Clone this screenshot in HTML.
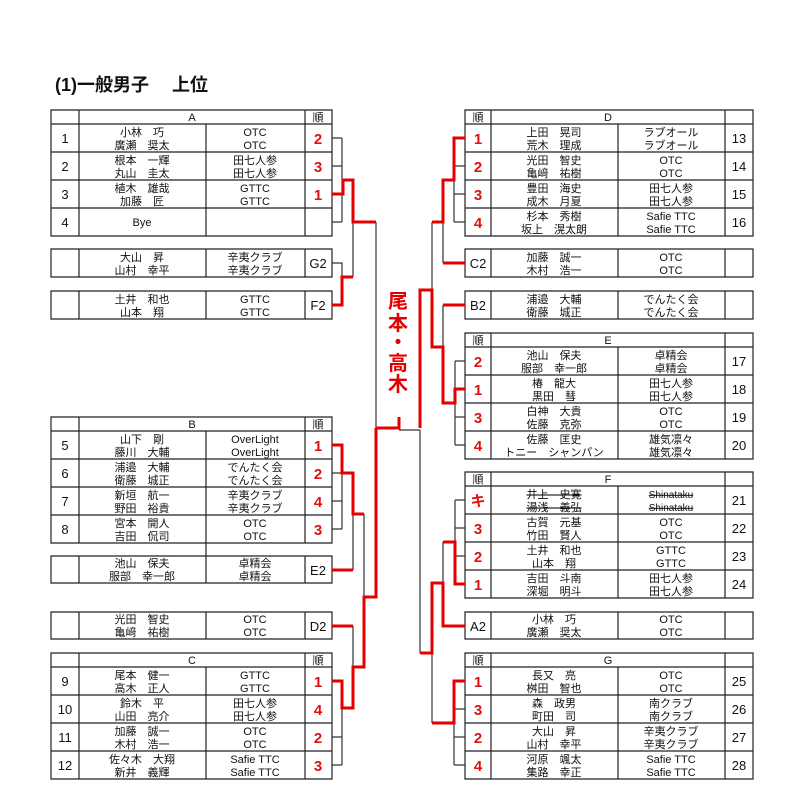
<!DOCTYPE html>
<html><head><meta charset="utf-8"><style>
body{margin:0;background:#fff;}
svg{display:block;font-family:"Liberation Sans","Noto Sans CJK JP",sans-serif;}
.n{font-size:11px;text-anchor:middle;fill:#111;}
.h{font-size:11px;text-anchor:middle;fill:#111;}
.k{font-size:13px;text-anchor:middle;fill:#111;}
.r{font-size:15px;font-weight:bold;text-anchor:middle;fill:#e01010;}
.t{stroke:#222;stroke-width:1.2;fill:none;}
.b{stroke:#333;stroke-width:1.2;fill:none;}
.rd{stroke:#e50000;stroke-width:3;fill:none;}
.s{text-decoration:line-through;}
</style></head><body>
<svg width="794" height="796" viewBox="0 0 794 796" xmlns="http://www.w3.org/2000/svg">
<text x="55" y="91" style="font-size:18px;font-weight:bold" fill="#111">(1)一般男子　 上位</text>

<path class="t" d="M51,110H332V236H51Z M79,110V236 M206,124V236 M305,110V236 M51,124H332 M51,152H332 M51,180H332 M51,208H332"/>
<text class="h" x="192" y="121">A</text><text class="h" x="318" y="121">順</text>
<text class="k" x="65" y="143">1</text><text class="n" x="142" y="136">小林　巧</text><text class="n" x="142" y="149">廣瀬　奨太</text><text class="n" x="255" y="136">OTC</text><text class="n" x="255" y="149">OTC</text><text class="r" x="318" y="144">2</text>
<text class="k" x="65" y="171">2</text><text class="n" x="142" y="164">根本　一輝</text><text class="n" x="142" y="177">丸山　圭太</text><text class="n" x="255" y="164">田七人参</text><text class="n" x="255" y="177">田七人参</text><text class="r" x="318" y="172">3</text>
<text class="k" x="65" y="199">3</text><text class="n" x="142" y="192">植木　雄哉</text><text class="n" x="142" y="205">加藤　匠</text><text class="n" x="255" y="192">GTTC</text><text class="n" x="255" y="205">GTTC</text><text class="r" x="318" y="200">1</text>
<text class="k" x="65" y="227">4</text><text class="n" x="142" y="226">Bye</text>

<path class="t" d="M51,249H332V277H51Z M79,249V277 M206,249V277 M305,249V277"/>
<text class="n" x="142" y="261">大山　昇</text><text class="n" x="142" y="274">山村　幸平</text><text class="n" x="255" y="261">辛夷クラブ</text><text class="n" x="255" y="274">辛夷クラブ</text><text class="k" x="318" y="268">G2</text>
<path class="t" d="M51,291H332V319H51Z M79,291V319 M206,291V319 M305,291V319"/>
<text class="n" x="142" y="303">土井　和也</text><text class="n" x="142" y="316">山本　翔</text><text class="n" x="255" y="303">GTTC</text><text class="n" x="255" y="316">GTTC</text><text class="k" x="318" y="310">F2</text>

<path class="t" d="M51,417H332V543H51Z M79,417V543 M206,431V543 M305,417V543 M51,431H332 M51,459H332 M51,487H332 M51,515H332 M206,543V556"/>
<text class="h" x="192" y="428">B</text><text class="h" x="318" y="428">順</text>
<text class="k" x="65" y="450">5</text><text class="n" x="142" y="443">山下　剛</text><text class="n" x="142" y="456">藤川　大輔</text><text class="n" x="255" y="443">OverLight</text><text class="n" x="255" y="456">OverLight</text><text class="r" x="318" y="451">1</text>
<text class="k" x="65" y="478">6</text><text class="n" x="142" y="471">浦邉　大輔</text><text class="n" x="142" y="484">衛藤　城正</text><text class="n" x="255" y="471">でんたく会</text><text class="n" x="255" y="484">でんたく会</text><text class="r" x="318" y="479">2</text>
<text class="k" x="65" y="506">7</text><text class="n" x="142" y="499">新垣　航一</text><text class="n" x="142" y="512">野田　裕貴</text><text class="n" x="255" y="499">辛夷クラブ</text><text class="n" x="255" y="512">辛夷クラブ</text><text class="r" x="318" y="507">4</text>
<text class="k" x="65" y="534">8</text><text class="n" x="142" y="527">宮本　開人</text><text class="n" x="142" y="540">吉田　侃司</text><text class="n" x="255" y="527">OTC</text><text class="n" x="255" y="540">OTC</text><text class="r" x="318" y="535">3</text>

<path class="t" d="M51,556H332V583H51Z M79,556V583 M206,556V583 M305,556V583"/>
<text class="n" x="142" y="567">池山　保夫</text><text class="n" x="142" y="580">服部　幸一郎</text><text class="n" x="255" y="567">卓精会</text><text class="n" x="255" y="580">卓精会</text><text class="k" x="318" y="575">E2</text>
<path class="t" d="M51,612H332V639H51Z M79,612V639 M206,612V639 M305,612V639"/>
<text class="n" x="142" y="623">光田　智史</text><text class="n" x="142" y="636">亀﨑　祐樹</text><text class="n" x="255" y="623">OTC</text><text class="n" x="255" y="636">OTC</text><text class="k" x="318" y="631">D2</text>

<path class="t" d="M51,653H332V779H51Z M79,653V779 M206,667V779 M305,653V779 M51,667H332 M51,695H332 M51,723H332 M51,751H332"/>
<text class="h" x="192" y="664">C</text><text class="h" x="318" y="664">順</text>
<text class="k" x="65" y="686">9</text><text class="n" x="142" y="679">尾本　健一</text><text class="n" x="142" y="692">高木　正人</text><text class="n" x="255" y="679">GTTC</text><text class="n" x="255" y="692">GTTC</text><text class="r" x="318" y="687">1</text>
<text class="k" x="65" y="714">10</text><text class="n" x="142" y="707">鈴木　平</text><text class="n" x="142" y="720">山田　亮介</text><text class="n" x="255" y="707">田七人参</text><text class="n" x="255" y="720">田七人参</text><text class="r" x="318" y="715">4</text>
<text class="k" x="65" y="742">11</text><text class="n" x="142" y="735">加藤　誠一</text><text class="n" x="142" y="748">木村　浩一</text><text class="n" x="255" y="735">OTC</text><text class="n" x="255" y="748">OTC</text><text class="r" x="318" y="743">2</text>
<text class="k" x="65" y="770">12</text><text class="n" x="142" y="763">佐々木　大翔</text><text class="n" x="142" y="776">新井　義輝</text><text class="n" x="255" y="763">Safie TTC</text><text class="n" x="255" y="776">Safie TTC</text><text class="r" x="318" y="771">3</text>

<path class="t" d="M465,110H753V236H465Z M491,110V236 M618,124V236 M725,110V236 M465,124H753 M465,152H753 M465,180H753 M465,208H753"/>
<text class="h" x="478" y="121">順</text><text class="h" x="608" y="121">D</text>
<text class="r" x="478" y="144">1</text><text class="n" x="554" y="136">上田　晃司</text><text class="n" x="554" y="149">荒木　理成</text><text class="n" x="671" y="136">ラブオール</text><text class="n" x="671" y="149">ラブオール</text><text class="k" x="739" y="143">13</text>
<text class="r" x="478" y="172">2</text><text class="n" x="554" y="164">光田　智史</text><text class="n" x="554" y="177">亀﨑　祐樹</text><text class="n" x="671" y="164">OTC</text><text class="n" x="671" y="177">OTC</text><text class="k" x="739" y="171">14</text>
<text class="r" x="478" y="200">3</text><text class="n" x="554" y="192">豊田　海史</text><text class="n" x="554" y="205">成木　月夏</text><text class="n" x="671" y="192">田七人参</text><text class="n" x="671" y="205">田七人参</text><text class="k" x="739" y="199">15</text>
<text class="r" x="478" y="228">4</text><text class="n" x="554" y="220">杉本　秀樹</text><text class="n" x="554" y="233">坂上　滉太朗</text><text class="n" x="671" y="220">Safie TTC</text><text class="n" x="671" y="233">Safie TTC</text><text class="k" x="739" y="227">16</text>

<path class="t" d="M465,249H753V277H465Z M491,249V277 M618,249V277 M725,249V277"/>
<text class="k" x="478" y="268">C2</text><text class="n" x="554" y="261">加藤　誠一</text><text class="n" x="554" y="274">木村　浩一</text><text class="n" x="671" y="261">OTC</text><text class="n" x="671" y="274">OTC</text>
<path class="t" d="M465,291H753V319H465Z M491,291V319 M618,291V319 M725,291V319"/>
<text class="k" x="478" y="310">B2</text><text class="n" x="554" y="303">浦邉　大輔</text><text class="n" x="554" y="316">衛藤　城正</text><text class="n" x="671" y="303">でんたく会</text><text class="n" x="671" y="316">でんたく会</text>

<path class="t" d="M465,333H753V459H465Z M491,333V459 M618,347V459 M725,333V459 M465,347H753 M465,375H753 M465,403H753 M465,431H753"/>
<text class="h" x="478" y="344">順</text><text class="h" x="608" y="344">E</text>
<text class="r" x="478" y="367">2</text><text class="n" x="554" y="359">池山　保夫</text><text class="n" x="554" y="372">服部　幸一郎</text><text class="n" x="671" y="359">卓精会</text><text class="n" x="671" y="372">卓精会</text><text class="k" x="739" y="366">17</text>
<text class="r" x="478" y="395">1</text><text class="n" x="554" y="387">椿　龍大</text><text class="n" x="554" y="400">黒田　彗</text><text class="n" x="671" y="387">田七人参</text><text class="n" x="671" y="400">田七人参</text><text class="k" x="739" y="394">18</text>
<text class="r" x="478" y="423">3</text><text class="n" x="554" y="415">白神　大貴</text><text class="n" x="554" y="428">佐藤　克弥</text><text class="n" x="671" y="415">OTC</text><text class="n" x="671" y="428">OTC</text><text class="k" x="739" y="422">19</text>
<text class="r" x="478" y="451">4</text><text class="n" x="554" y="443">佐藤　匡史</text><text class="n" x="554" y="456">トニー　シャンパン</text><text class="n" x="671" y="443">雄気凛々</text><text class="n" x="671" y="456">雄気凛々</text><text class="k" x="739" y="450">20</text>

<path class="t" d="M465,472H753V598H465Z M491,472V598 M618,486V598 M725,472V598 M465,486H753 M465,514H753 M465,542H753 M465,570H753"/>
<text class="h" x="478" y="483">順</text><text class="h" x="608" y="483">F</text>
<text class="r" x="478" y="506">キ</text><text class="n s" x="554" y="498">井上　史寛</text><text class="n s" x="554" y="511">湯浅　義弘</text><text class="n s" x="671" y="498" style="font-size:10px">Shinataku</text><text class="n s" x="671" y="511" style="font-size:10px">Shinataku</text><text class="k" x="739" y="505">21</text>
<text class="r" x="478" y="534">3</text><text class="n" x="554" y="526">古賀　元基</text><text class="n" x="554" y="539">竹田　賢人</text><text class="n" x="671" y="526">OTC</text><text class="n" x="671" y="539">OTC</text><text class="k" x="739" y="533">22</text>
<text class="r" x="478" y="562">2</text><text class="n" x="554" y="554">土井　和也</text><text class="n" x="554" y="567">山本　翔</text><text class="n" x="671" y="554">GTTC</text><text class="n" x="671" y="567">GTTC</text><text class="k" x="739" y="561">23</text>
<text class="r" x="478" y="590">1</text><text class="n" x="554" y="582">吉田　斗南</text><text class="n" x="554" y="595">深堀　明斗</text><text class="n" x="671" y="582">田七人参</text><text class="n" x="671" y="595">田七人参</text><text class="k" x="739" y="589">24</text>

<path class="t" d="M465,612H753V639H465Z M491,612V639 M618,612V639 M725,612V639"/>
<text class="k" x="478" y="631">A2</text><text class="n" x="554" y="623">小林　巧</text><text class="n" x="554" y="636">廣瀬　奨太</text><text class="n" x="671" y="623">OTC</text><text class="n" x="671" y="636">OTC</text>

<path class="t" d="M465,653H753V779H465Z M491,653V779 M618,667V779 M725,653V779 M465,667H753 M465,695H753 M465,723H753 M465,751H753"/>
<text class="h" x="478" y="664">順</text><text class="h" x="608" y="664">G</text>
<text class="r" x="478" y="687">1</text><text class="n" x="554" y="679">長又　亮</text><text class="n" x="554" y="692">桝田　智也</text><text class="n" x="671" y="679">OTC</text><text class="n" x="671" y="692">OTC</text><text class="k" x="739" y="686">25</text>
<text class="r" x="478" y="715">3</text><text class="n" x="554" y="707">森　政男</text><text class="n" x="554" y="720">町田　司</text><text class="n" x="671" y="707">南クラブ</text><text class="n" x="671" y="720">南クラブ</text><text class="k" x="739" y="714">26</text>
<text class="r" x="478" y="743">2</text><text class="n" x="554" y="735">大山　昇</text><text class="n" x="554" y="748">山村　幸平</text><text class="n" x="671" y="735">辛夷クラブ</text><text class="n" x="671" y="748">辛夷クラブ</text><text class="k" x="739" y="742">27</text>
<text class="r" x="478" y="771">4</text><text class="n" x="554" y="763">河原　颯太</text><text class="n" x="554" y="776">集路　幸正</text><text class="n" x="671" y="763">Safie TTC</text><text class="n" x="671" y="776">Safie TTC</text><text class="k" x="739" y="770">28</text>

<path class="b" d="
M332,138H342 M332,166H342 M332,222H342 M342,138V222
M332,263H342V277 M353,222V277
M376,222V428 M399,430H420
M342,445V529 M332,473H342 M332,501H342 M332,529H342
M353,514V570 M364,514V597
M353,626V667
M342,708V765 M332,737H342 M332,765H342
M465,166H454 M465,194H454 M465,222H454 M454,138V222
M443,222V263 M432,222V290 M443,305V347
M455,361V445 M465,361H455 M465,417H455 M465,445H455
M420,430V653
M455,500V556 M465,500H455 M465,528H455 M465,556H455 M443,542V583
M432,653V723
M454,709V765 M465,709H454 M465,737H454 M465,765H454
"/>
<path class="rd" d="
M332,194H343V180H353V222H376
M332,305H342V277H353
M376,428H399V417
M376,428V597H364V667H353V708H342V681H332
M332,445H342V473H353V514H364
M332,570H353
M332,626H353
M465,138H454V180H443V222H432
M443,263H465
M443,305H465
M420,428V290H432V347H443V403H455V389H465
M420,653H432V583H443V626H465
M465,584H455V542H443
M432,723H454V681H465
"/>

<g style="font-size:20px;font-weight:bold" fill="#e50000" text-anchor="middle">
<text x="398" y="308">尾</text>
<text x="398" y="330">本</text>
<text x="398" y="349">・</text>
<text x="398" y="370">高</text>
<text x="398" y="391">木</text>
</g>
</svg>
</body></html>
